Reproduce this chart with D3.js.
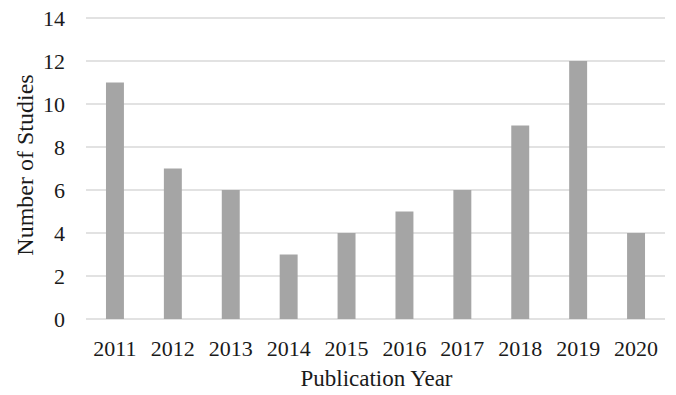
<!DOCTYPE html>
<html>
<head>
<meta charset="utf-8">
<script src="https://cdn.jsdelivr.net/npm/d3@7"></script>
<style>
  html, body { margin: 0; padding: 0; background: #fff; }
  svg { display: block; }
  text { font-family: "Liberation Serif", "Times New Roman", serif; fill: #1a1a1a; }
</style>
</head>
<body>
<svg id="chart" width="676" height="395"></svg>
<script>
// Studies per publication year
const years = ["2011", "2012", "2013", "2014", "2015", "2016", "2017", "2018", "2019", "2020"];
const studies = [11, 7, 6, 3, 4, 5, 6, 9, 12, 4];
const yTicks = [0, 2, 4, 6, 8, 10, 12, 14];

const W = 676, H = 395;
const margin = { top: 18, right: 11, bottom: 76, left: 86 };
const innerW = W - margin.left - margin.right;
const innerH = H - margin.top - margin.bottom;

const svg = d3.select("#chart");
const g = svg.append("g").attr("transform", `translate(${margin.left},${margin.top})`);

const x = d3.scaleBand().domain(years).range([0, innerW]).paddingInner(0.69).paddingOuter(0.345);
const y = d3.scaleLinear().domain([0, 14]).range([innerH, 0]);

// horizontal gridlines
g.append("g")
  .selectAll("line")
  .data(yTicks)
  .join("line")
  .attr("x1", 0).attr("x2", innerW)
  .attr("y1", d => y(d)).attr("y2", d => y(d))
  .attr("stroke", "#d9d9d9")
  .attr("stroke-width", 1.3);

// bars
g.append("g")
  .selectAll("rect")
  .data(years.map((yr, i) => ({ yr, v: studies[i] })))
  .join("rect")
  .attr("x", d => x(d.yr))
  .attr("y", d => y(d.v))
  .attr("width", x.bandwidth())
  .attr("height", d => innerH - y(d.v))
  .attr("fill", "#a5a5a5");

// y axis labels
const yAxis = g.append("g")
  .call(d3.axisLeft(y).tickValues(yTicks).tickSize(0).tickPadding(21));
yAxis.select(".domain").remove();
yAxis.selectAll("text").attr("font-size", 22).attr("font-family", "Liberation Serif, serif").attr("fill", "#1a1a1a");

// x axis labels
const xAxis = g.append("g")
  .attr("transform", `translate(0,${innerH})`)
  .call(d3.axisBottom(x).tickSize(0).tickPadding(21));
xAxis.select(".domain").remove();
xAxis.selectAll("text").attr("font-size", 22).attr("font-family", "Liberation Serif, serif").attr("fill", "#1a1a1a");

// axis titles
svg.append("text")
  .attr("x", margin.left + innerW / 2 + 1)
  .attr("y", 386)
  .attr("text-anchor", "middle")
  .attr("font-size", 23)
  .text("Publication Year");

svg.append("text")
  .attr("transform", `translate(33,165) rotate(-90)`)
  .attr("text-anchor", "middle")
  .attr("font-size", 24)
  .text("Number of Studies");
</script>
</body>
</html>
